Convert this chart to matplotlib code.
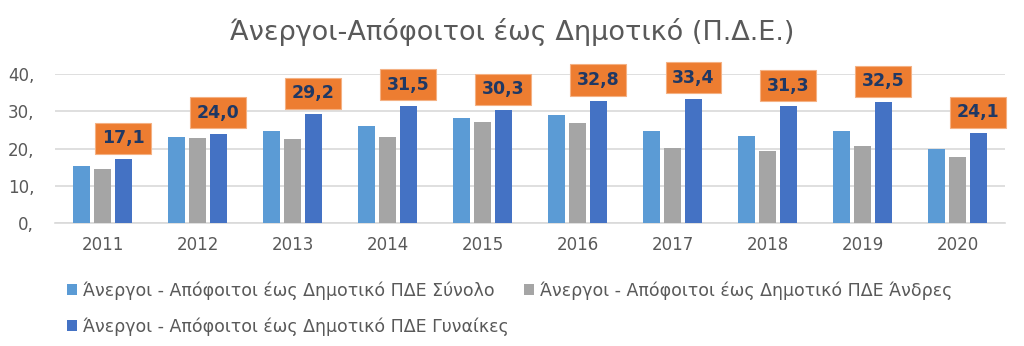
import matplotlib
matplotlib.use("Agg")
import matplotlib.pyplot as plt
import numpy as np
from matplotlib.ticker import FuncFormatter, MultipleLocator

years = ["2011", "2012", "2013", "2014", "2015", "2016", "2017", "2018", "2019", "2020"]
total = [15.3, 23.2, 24.7, 26.0, 28.3, 28.9, 24.8, 23.4, 24.8, 19.8]
men = [14.6, 22.9, 22.6, 23.0, 27.2, 26.9, 20.1, 19.3, 20.7, 17.6]
women = [17.1, 24.0, 29.2, 31.5, 30.3, 32.8, 33.4, 31.3, 32.5, 24.1]

series_names = [
    "Άνεργοι - Απόφοιτοι έως Δημοτικό ΠΔΕ Σύνολο",
    "Άνεργοι - Απόφοιτοι έως Δημοτικό ΠΔΕ Άνδρες",
    "Άνεργοι - Απόφοιτοι έως Δημοτικό ΠΔΕ Γυναίκες",
]
title = "Άνεργοι-Απόφοιτοι έως Δημοτικό (Π.Δ.Ε.)"

plt.rcParams['font.family'] = ['DejaVu Sans']
text_gray = "#595959"

fig = plt.figure(figsize=(10.24, 3.46), dpi=100)
ax = fig.add_axes([55/1024, 1 - 223/346, 950/1024, 149/346])

x = np.arange(len(years))
w = 0.18
off = 0.22
colors = ["#5B9BD5", "#A5A5A5", "#4472C4"]
b1 = ax.bar(x - off, total, w, color=colors[0], label=series_names[0], zorder=3)
b2 = ax.bar(x, men, w, color=colors[1], label=series_names[1], zorder=3)
b3 = ax.bar(x + off, women, w, color=colors[2], label=series_names[2], zorder=3)

for xi, v in zip(x, women):
    ax.annotate(f"{v:.1f}".replace(".", ","), (xi + off, v), xytext=(0, 8.5),
                textcoords="offset points", ha="center", va="bottom",
                fontsize=12.5, fontweight="bold", color="#1F3864", zorder=5,
                bbox=dict(boxstyle="square,pad=0.38", fc="#ED7D31", ec="#F4B183", lw=0.8))

ax.set_xlim(-0.5, len(years) - 0.5)
ax.set_ylim(0, 40)
ax.yaxis.set_major_locator(MultipleLocator(10))
ax.yaxis.set_major_formatter(FuncFormatter(lambda v, p: f"{int(v)},"))
ax.set_xticks(x)
ax.set_xticklabels(years)
ax.tick_params(axis="both", length=0, labelsize=12, colors=text_gray)
ax.tick_params(axis="x", pad=9)
ax.tick_params(axis="y", pad=15)
ax.grid(axis="y", color="#D9D9D9", lw=1.2, zorder=0)
for s in ["top", "right", "left"]:
    ax.spines[s].set_visible(False)
ax.spines["bottom"].set_color("#D9D9D9")
ax.spines["bottom"].set_linewidth(1.2)

fig.text(0.5, 1 - 32/346, title, ha="center", va="center", fontsize=19.5, color=text_gray)

handles = [b1, b3, b2]
labels = [series_names[0], series_names[2], series_names[1]]
leg = fig.legend(handles, labels, ncol=2, loc="upper left",
                 bbox_to_anchor=(55/1024, 1 - 269/346), frameon=False,
                 fontsize=12.5, labelcolor=text_gray, handlelength=0.55, handleheight=0.55,
                 handletextpad=0.35, columnspacing=0.9, labelspacing=1.0,
                 borderpad=0.2)

fig.savefig("out.png", dpi=100, facecolor="white")
